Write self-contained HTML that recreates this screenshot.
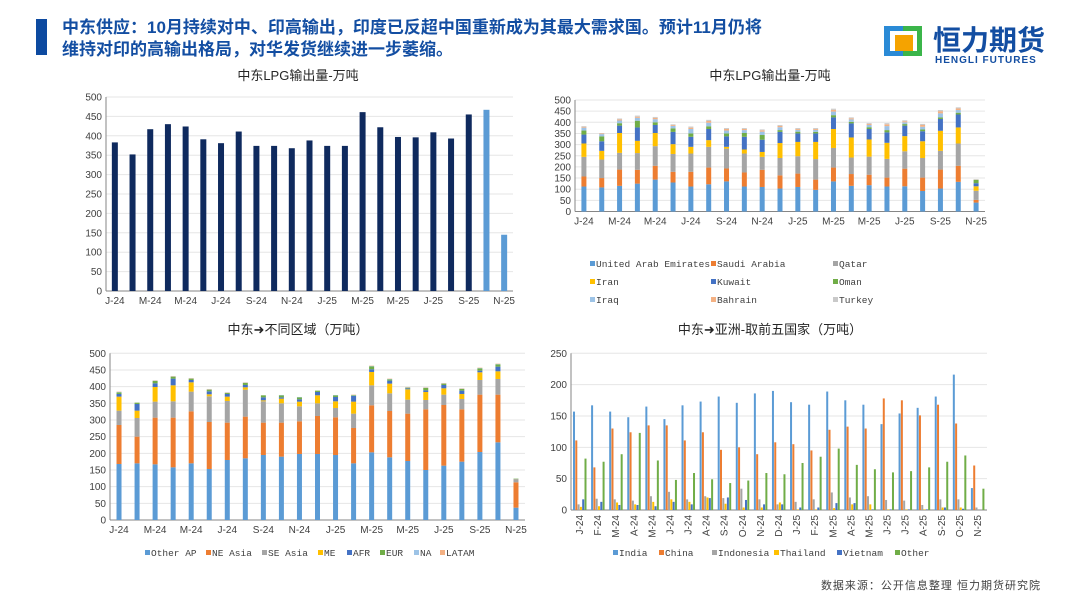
<!DOCTYPE html>
<html><head><meta charset="utf-8"><style>
html,body{margin:0;padding:0;background:#fff;}
svg{display:block;}
text{font-family:"Liberation Sans","Noto Sans CJK SC",sans-serif;}
.tick{font-size:10px;fill:#404040;}
.leg{font-family:"Liberation Mono","Noto Sans CJK SC",monospace;font-size:9.5px;fill:#404040;}
.ttl{font-size:13px;fill:#262626;}
</style></head><body>
<svg id="s" width="1080" height="608" viewBox="0 0 1080 608" xmlns="http://www.w3.org/2000/svg">
<rect x="36" y="19" width="11" height="36" fill="#0d4aa0"/>
<text x="62" y="33" font-size="17" font-weight="bold" fill="#134ea2">中东供应：10月持续对中、印高输出，印度已反超中国重新成为其最大需求国。预计11月仍将</text>
<text x="62" y="55" font-size="17" font-weight="bold" fill="#134ea2">维持对印的高输出格局，对华发货继续进一步萎缩。</text>
<g>
<rect x="884" y="26" width="38" height="30" fill="#2a8ad6"/>
<rect x="903" y="26" width="19" height="30" fill="#3bb54a"/>
<rect x="890" y="31" width="27" height="20" fill="#fff"/>
<rect x="895" y="35" width="18" height="16" fill="#f5a300"/>
<text x="933" y="50" font-size="28" font-weight="bold" fill="#134ea2">恒力期货</text>
<text x="935" y="63" font-size="10" font-weight="bold" fill="#134ea2" letter-spacing="1">HENGLI FUTURES</text>
</g>
<text class="ttl" x="298" y="80" text-anchor="middle">中东LPG输出量-万吨</text>
<text class="ttl" x="770" y="80" text-anchor="middle">中东LPG输出量-万吨</text>
<text class="ttl" x="298" y="334" text-anchor="middle">中东➜不同区域（万吨）</text>
<text class="ttl" x="770" y="334" text-anchor="middle">中东➜亚洲-取前五国家（万吨）</text>
<text x="1041" y="589" text-anchor="end" font-size="11" fill="#404040" letter-spacing="1">数据来源：公开信息整理  恒力期货研究院</text>
</svg>
<script>
const months = ["J-24","F-24","M-24","A-24","M-24","J-24","J-24","A-24","S-24","O-24","N-24","D-24","J-25","F-25","M-25","A-25","M-25","J-25","J-25","A-25","S-25","O-25","N-25"];
// chart1
const totalExport = [383,352,417,430,424,391,381,411,374,374,368,388,374,374,461,422,397,396,409,393,455,467,145];
const forecastFrom = 21;
// chart2 series
const c2Names = ["United Arab Emirates","Saudi Arabia","Qatar","Iran","Kuwait","Oman","Iraq","Bahrain","Turkey"];
const c2UAE = [112,108,115,125,143,130,112,122,135,112,110,103,110,97,135,115,118,112,113,92,103,133,40];
const c2Saudi = [45,42,73,62,62,48,66,75,58,63,77,59,60,46,62,53,47,40,79,60,85,72,12];
const c2Qatar = [88,83,75,75,88,80,82,93,89,85,58,78,78,92,88,74,81,84,78,88,84,100,41];
const c2Iran = [60,39,89,55,59,44,30,30,8,18,22,67,64,77,85,90,77,72,68,75,90,72,20];
const c2Kuwait = [40,43,33,60,36,55,45,50,47,57,55,50,38,38,52,63,47,47,47,45,53,58,14];
const c2Oman = [18,22,11,30,12,16,15,12,13,17,21,8,8,7,10,7,8,10,7,8,7,8,15];
const c2Iraq = [13,10,12,13,14,11,20,16,13,13,15,13,8,9,16,11,10,18,8,12,18,12,1];
const c2Bahrain = [4,3,5,5,6,4,6,8,7,5,6,6,4,4,8,5,5,8,5,8,10,7,1];
const c2Turkey = [3,2,4,5,4,3,5,5,4,4,4,4,4,4,5,4,4,5,4,5,5,5,1];
// chart3 series
const c3Names = ["Other AP","NE Asia","SE Asia","ME","AFR","EUR","NA","LATAM"];
const c3OtherAP = [168,170,167,158,170,153,180,185,195,190,198,198,195,170,203,188,177,150,163,175,204,233,37];
const c3NEAsia = [117,80,140,149,156,141,112,125,97,102,98,114,113,106,141,139,142,182,182,157,172,143,76];
const c3SEAsia = [43,56,48,49,59,77,65,81,64,58,45,38,28,43,60,53,42,28,31,31,44,47,8];
const c3ME = [42,22,44,48,28,6,13,7,3,14,14,24,20,36,40,29,31,24,19,15,23,23,1];
const c3AFR = [8,20,11,20,7,9,8,7,9,4,7,10,13,17,8,9,3,5,10,10,5,14,1];
const c3EUR = [5,4,7,6,4,5,3,6,6,6,6,4,5,2,9,4,2,7,4,5,7,7,1];
const c3NA = [1,0,1,1,1,1,1,1,0,1,1,0,1,1,1,1,1,1,1,1,1,1,0];
const c3LATAM = [1,0,1,1,1,1,1,1,0,0,0,0,0,1,1,1,1,1,1,1,1,1,0];
// chart4 series
const c4Names = ["India","China","Indonesia","Thailand","Vietnam","Other"];
const c4India = [157,167,157,148,165,145,167,173,181,171,186,190,172,168,189,175,168,137,154,163,181,216,35];
const c4China = [111,68,130,124,135,135,111,124,96,100,89,108,105,95,128,133,130,178,175,151,168,138,71];
const c4Indonesia = [9,18,17,15,22,29,17,22,19,34,17,9,13,17,28,20,22,16,15,8,17,17,4];
const c4Thailand = [5,6,12,9,13,17,13,20,10,4,4,12,1,1,3,9,9,1,1,1,4,4,0];
const c4Vietnam = [17,13,8,8,6,13,9,19,20,16,9,9,4,4,11,11,1,1,1,1,4,2,0];
const c4Other = [82,77,89,123,79,48,59,49,43,47,59,57,75,85,98,72,65,60,62,68,77,87,34];

const yTicks500 = [0,50,100,150,200,250,300,350,400,450,500];
const yTicks250 = [0,50,100,150,200,250];

const NS="http://www.w3.org/2000/svg";
const svg=document.getElementById('s');
function el(tag,attrs,parent){const e=document.createElementNS(NS,tag);for(const k in attrs)e.setAttribute(k,attrs[k]);(parent||svg).appendChild(e);return e;}

function axes(g,cfg,ticks,prefix){
  const yS=v=>cfg.y0-(v/cfg.max)*(cfg.y0-cfg.y1);
  ticks.forEach(t=>{
    const y=yS(t);
    if(t>0){const l=el('line',{x1:cfg.x0,x2:cfg.x1,y1:y,y2:y,stroke:'#e6e6e6','stroke-width':1},g);
    
    }
    const tx=el('text',{x:cfg.x0-4,y:y+3.5,'text-anchor':'end',class:'tick'},g);
    tx.textContent=t;
    
    
  });
  const ya=el('line',{x1:cfg.x0,x2:cfg.x0,y1:cfg.y1,y2:cfg.y0,stroke:'#868686'},g);
  
  
  const xa=el('line',{x1:cfg.x0,x2:cfg.x1,y1:cfg.y0,y2:cfg.y0,stroke:'#868686'},g);
  
  
  return yS;
}
function xLabels(g,cfg,prefix,rotate){
  const step=(cfg.x1-cfg.x0)/months.length;
  months.forEach((m,i)=>{
    if(!rotate && i%2) return;
    const cx = cfg.x0+step*(i+0.5);
    const t=el('text',{class:'tick'},g);
    if(rotate){t.setAttribute('transform',`translate(${cx+3},${cfg.y0+5}) rotate(-90)`);t.setAttribute('text-anchor','end');}
    else{t.setAttribute('x',cx);t.setAttribute('y',cfg.y0+13);t.setAttribute('text-anchor','middle');}
    t.textContent=m;
    
    
  });
}
function stacked(cfg,series,colors,prefix){
  const g=el('g',{});
  
  
  const yS=axes(g,cfg,yTicks500,prefix);
  const step=(cfg.x1-cfg.x0)/months.length;
  for(let i=0;i<months.length;i++){
    let acc=0;
    series.forEach((s,k)=>{
      const v=s[i];if(!v)return;
      const r=el('rect',{x:cfg.x0+step*(i+0.5)-cfg.bw/2,y:yS(acc+v),width:cfg.bw,height:yS(acc)-yS(acc+v),fill:colors[k]},g);
      
      
      acc+=v;
    });
  }
  xLabels(g,cfg,prefix,false);
}
function legend(names,colors,positions,prefix){
  names.forEach((n,i)=>{
    const p=positions[i];
    const r=el('rect',{x:p[0],y:p[1]-6,width:5,height:5,fill:colors[i]});
    
    
    const t=el('text',{x:p[0]+6,y:p[1],class:'leg'});
    t.textContent=n;
    
    
  });
}

// Chart 1
(function(){
  const cfg={x0:106,x1:513,y0:291,y1:97,max:500,bw:6};
  const g=el('g',{});
  
  
  const yS=axes(g,cfg,yTicks500,'chart1');
  const step=(cfg.x1-cfg.x0)/months.length;
  totalExport.forEach((v,i)=>{
    const r=el('rect',{x:cfg.x0+step*(i+0.5)-cfg.bw/2,y:yS(v),width:cfg.bw,height:yS(0)-yS(v),fill:i>=forecastFrom?'#5b9bd5':'#0f2a5e'},g);
    
    
  });
  xLabels(g,cfg,'chart1',false);
})();

const c2Colors=['#5b9bd5','#ed7d31','#a5a5a5','#ffc000','#4472c4','#70ad47','#9dc3e6','#f4b183','#c9c9c9'];
stacked({x0:575,x1:985,y0:211.5,y1:100,max:500,bw:5},[c2UAE,c2Saudi,c2Qatar,c2Iran,c2Kuwait,c2Oman,c2Iraq,c2Bahrain,c2Turkey],c2Colors,'chart2');
legend(c2Names,c2Colors,[[590,267],[711,267],[833,267],[590,285],[711,285],[833,285],[590,303],[711,303],[833,303]],'chart2');

const c3Colors=['#5b9bd5','#ed7d31','#a5a5a5','#ffc000','#4472c4','#70ad47','#9dc3e6','#f4b183'];
stacked({x0:110,x1:525,y0:520,y1:353.3,max:500,bw:5},[c3OtherAP,c3NEAsia,c3SEAsia,c3ME,c3AFR,c3EUR,c3NA,c3LATAM],c3Colors,'chart3');
legend(c3Names,c3Colors,[[145,556],[206,556],[262,556],[318,556],[347,556],[380,556],[414,556],[440,556]],'chart3');

// Chart 4 grouped
const c4Colors=['#5b9bd5','#ed7d31','#a5a5a5','#ffc000','#4472c4','#70ad47'];
(function(){
  const cfg={x0:571,x1:987,y0:510,y1:353.3,max:250};
  const g=el('g',{});
  
  
  const yS=axes(g,cfg,yTicks250,'chart4');
  const step=(cfg.x1-cfg.x0)/months.length;
  const series=[c4India,c4China,c4Indonesia,c4Thailand,c4Vietnam,c4Other];
  const bw=2.3;
  months.forEach((m,i)=>{
    series.forEach((s,k)=>{
      const v=s[i];
      const r=el('rect',{x:cfg.x0+step*i+2+k*bw,y:yS(v),width:bw-0.3,height:yS(0)-yS(v),fill:c4Colors[k]},g);
      
      
    });
  });
  xLabels(g,cfg,'chart4',true);
})();
legend(c4Names,c4Colors,[[613,556],[659,556],[712,556],[774,556],[837,556],[895,556]],'chart4');
</script>
</body></html>
